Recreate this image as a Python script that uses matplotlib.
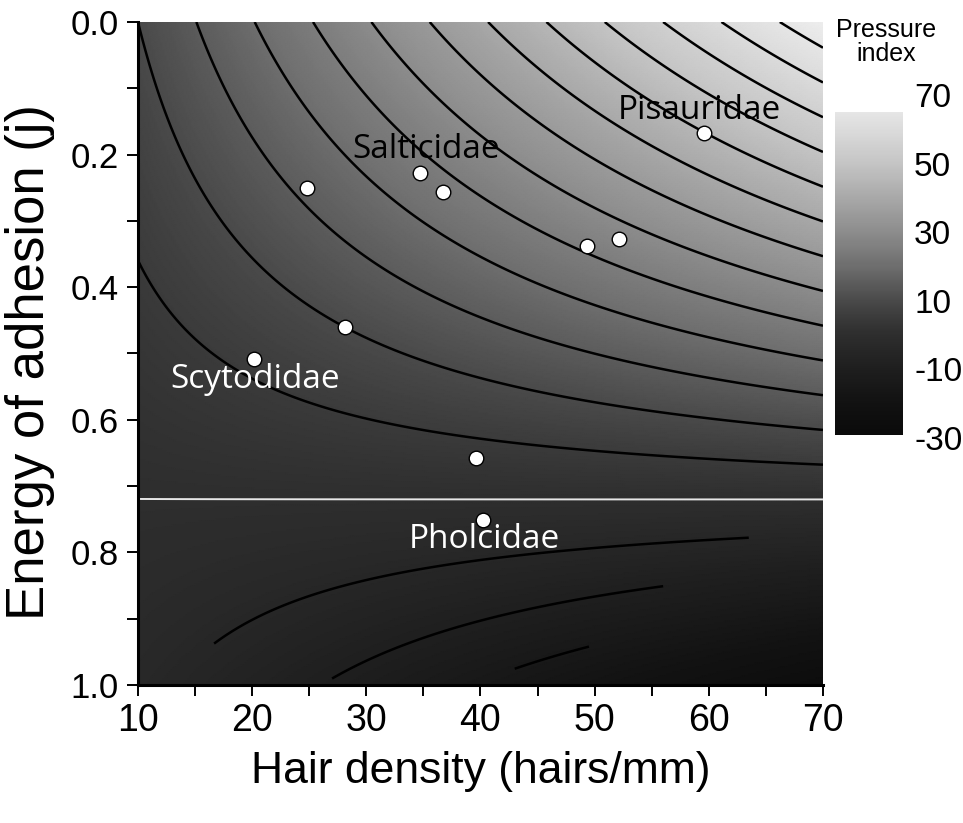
import numpy as np
import matplotlib
matplotlib.use("Agg")
import matplotlib.pyplot as plt
from matplotlib.colors import LinearSegmentedColormap, Normalize

# ---------------- data ----------------
density_range = [10, 70]          # hairs/mm
energy_range = [0.0, 1.0]         # energy of adhesion
# pressure index at the four corners of the field (field is bilinear)
pressure_at_energy0 = [10.0, 68.7]    # density 10, density 70
pressure_at_energy1 = [-3.9, -26.7]   # density 10, density 70
upper_levels = [5, 10, 15, 20, 25, 30, 35, 40, 45, 50, 55, 60, 65]
zero_level = [0]
lower_levels = [-5, -10, -15]

species_density = [24.8, 34.7, 36.7, 49.3, 52.1, 59.6, 28.1, 20.2, 39.6, 40.2]
species_energy = [0.250, 0.228, 0.256, 0.338, 0.327, 0.167, 0.460, 0.508, 0.658, 0.751]

label_names = ["Salticidae", "Pisauridae", "Scytodidae", "Pholcidae"]
label_density = [35.2, 59.2, 20.3, 40.3]
label_energy = [0.193, 0.133, 0.540, 0.781]
label_colors = ["black", "black", "white", "white"]

x_ticks = [10, 20, 30, 40, 50, 60, 70]
y_ticks = [0.0, 0.2, 0.4, 0.6, 0.8, 1.0]
cbar_ticks = [70, 50, 30, 10, -10, -30]
cbar_range = [-29, 65]

# drawn extent (in density) of the lower contour lines, as in the figure
lower_extent = {-5: (16.6, 63.6), -10: (27.0, 56.0), -15: (43.0, 49.6)}

# ---------------- field ----------------
d = np.linspace(density_range[0], density_range[1], 361)
e = np.linspace(energy_range[0], energy_range[1], 361)
D, E = np.meshgrid(d, e)
t = (D - density_range[0]) / (density_range[1] - density_range[0])
s = (E - energy_range[0]) / (energy_range[1] - energy_range[0])
P = ((1 - s) * ((1 - t) * pressure_at_energy0[0] + t * pressure_at_energy0[1])
     + s * ((1 - t) * pressure_at_energy1[0] + t * pressure_at_energy1[1]))

norm = Normalize(vmin=-30, vmax=70)
stops = [(-30, 0.04), (-20, 0.07), (-10, 0.12), (0, 0.18), (5, 0.23), (10, 0.29),
         (20, 0.43), (30, 0.55), (40, 0.66), (50, 0.77), (60, 0.86), (70, 0.94)]
cmap = LinearSegmentedColormap.from_list(
    "press", [((v + 30) / 100.0, (g, g, g)) for v, g in stops])

fig = plt.figure(figsize=(9.63, 8.23), dpi=100)
ax = fig.add_axes([0.1433, 0.1677, 0.7113, 0.8056])

ax.pcolormesh(D, E, P, cmap=cmap, norm=norm, shading="gouraud", rasterized=True)
ax.contour(D, E, P, levels=upper_levels, colors="black", linewidths=1.8,
           linestyles="solid")
ax.contour(D, E, P, levels=zero_level, colors="#e6e6e6", linewidths=1.4,
           linestyles="solid")
for lev in lower_levels:
    lo, hi = lower_extent[lev]
    Pm = np.ma.masked_where((D < lo) | (D > hi), P)
    ax.contour(D, E, Pm, levels=[lev], colors="black", linewidths=1.8,
               linestyles="solid")

ax.scatter(species_density, species_energy, s=110, c="white", edgecolors="black",
           linewidths=1.0, zorder=5)
for name, xd, ye, col in zip(label_names, label_density, label_energy, label_colors):
    ax.text(xd, ye, name, color=col, fontsize=24, family=["Open Sans", "DejaVu Sans"],
            ha="center", va="center", zorder=6)

ax.set_xlim(density_range)
ax.set_ylim(energy_range[1], energy_range[0])
for side in ["top", "right"]:
    ax.spines[side].set_visible(False)
for side in ["left", "bottom"]:
    ax.spines[side].set_linewidth(2.2)

ax.set_xticks(x_ticks)
ax.set_xticks(np.arange(15, 70, 10), minor=True)
ax.set_yticks(y_ticks)
ax.set_yticks(np.arange(0.1, 1.0, 0.2), minor=True)
ax.set_yticklabels([f"{v:.1f}" for v in y_ticks])
ax.tick_params(which="both", direction="out", length=8, width=1.4)
ax.tick_params(axis="x", labelsize=27, pad=5)
ax.tick_params(axis="y", labelsize=25, pad=6)
for lab in ax.get_xticklabels():
    lab.set_family(["Liberation Sans Narrow", "Liberation Sans", "DejaVu Sans"])
for lab in ax.get_yticklabels():
    lab.set_family(["Liberation Sans", "DejaVu Sans"])

ax.set_xlabel("Hair density (hairs/mm)", fontsize=32,
              family=["Liberation Sans", "DejaVu Sans"])
ax.xaxis.label.set_va("center")
ax.xaxis.set_label_coords(0.5, -0.131)
ax.set_ylabel("Energy of adhesion (j)", fontsize=38,
              family=["Liberation Sans", "DejaVu Sans"])
ax.yaxis.label.set_va("center")
ax.yaxis.set_label_coords(-0.158, 0.487)

# colour bar
cax = fig.add_axes([0.867, 0.4678, 0.0706, 0.4168])
grad = np.linspace(cbar_range[0], cbar_range[1], 256)[:, None]
cax.imshow(grad, extent=[0, 1, cbar_range[0], cbar_range[1]], origin="lower",
           aspect="auto", cmap=cmap, norm=norm)
cax.set_xlim(0, 1)
cax.set_ylim(-30, 70)
for sp in cax.spines.values():
    sp.set_visible(False)
cax.set_xticks([])
cax.yaxis.tick_right()
cax.set_yticks(cbar_ticks)
cax.set_yticklabels([str(v) for v in cbar_ticks])
cax.tick_params(axis="y", length=0, pad=8, labelsize=24)
for lab in cax.get_yticklabels():
    lab.set_family(["Liberation Sans", "DejaVu Sans"])

fig.text(0.92, 0.978, "Pressure\nindex", ha="center", va="top", fontsize=18,
         linespacing=1.0, family=["Liberation Sans", "DejaVu Sans"])

fig.savefig("out.png", dpi=100)
